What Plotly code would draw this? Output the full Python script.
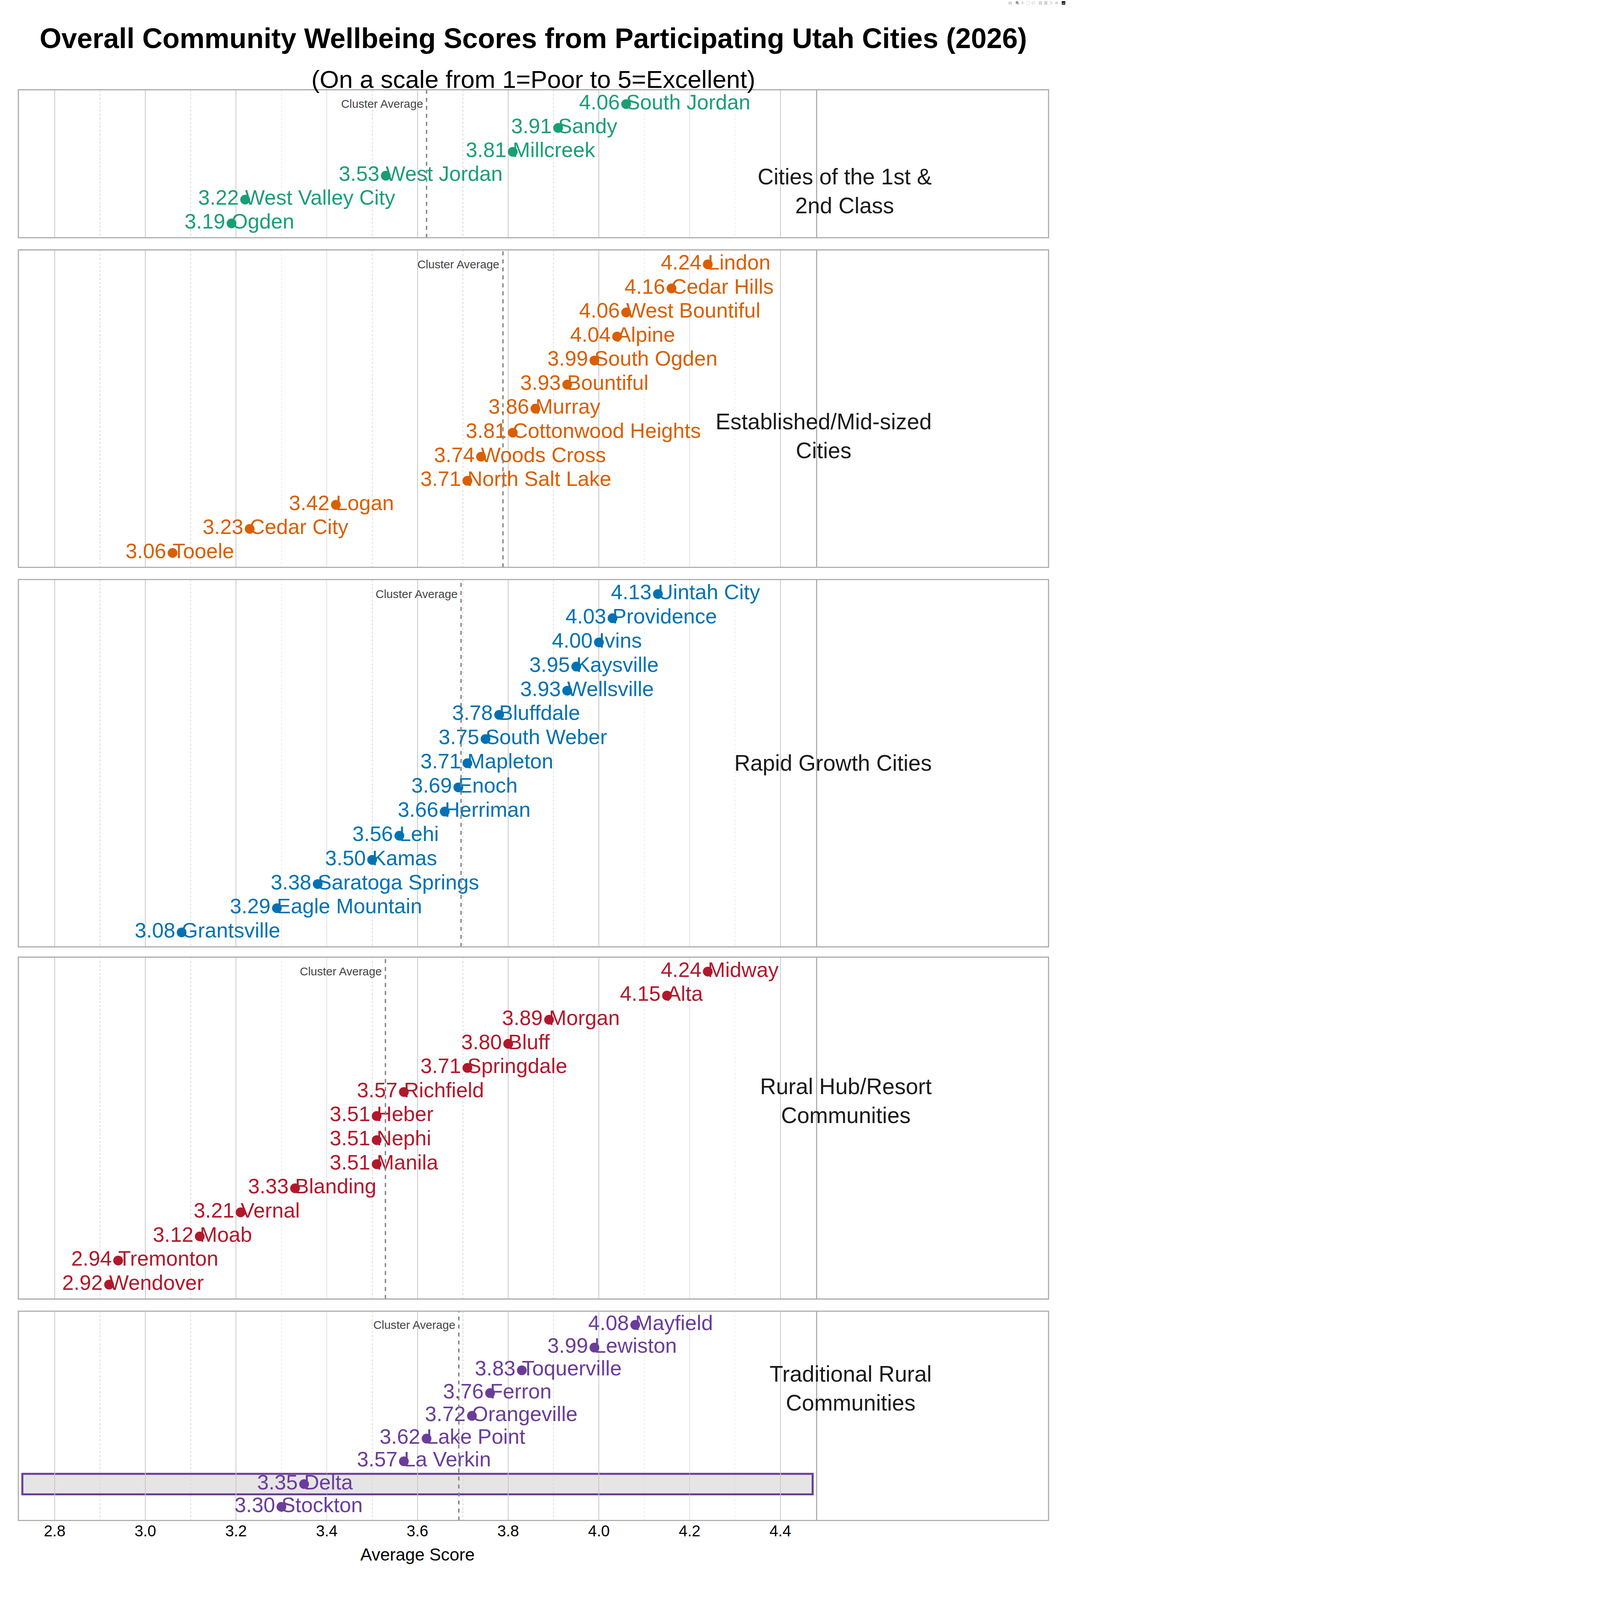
import numpy as np
import plotly.graph_objects as go

# 数据
clusters = ["Cities of the 1st &<br>2nd Class", "Established/Mid-sized<br>Cities",
            "Rapid Growth Cities", "Rural Hub/Resort<br>Communities",
            "Traditional Rural<br>Communities"]
colors = ["#1b9e77", "#d95f02", "#0072b2", "#b2182b", "#6a3d9a"]

c1_names = ["South Jordan", "Sandy", "Millcreek", "West Jordan", "West Valley City", "Ogden"]
c1_vals = [4.06, 3.91, 3.81, 3.53, 3.22, 3.19]
c2_names = ["Lindon", "Cedar Hills", "West Bountiful", "Alpine", "South Ogden", "Bountiful",
            "Murray", "Cottonwood Heights", "Woods Cross", "North Salt Lake", "Logan",
            "Cedar City", "Tooele"]
c2_vals = [4.24, 4.16, 4.06, 4.04, 3.99, 3.93, 3.86, 3.81, 3.74, 3.71, 3.42, 3.23, 3.06]
c3_names = ["Uintah City", "Providence", "Ivins", "Kaysville", "Wellsville", "Bluffdale",
            "South Weber", "Mapleton", "Enoch", "Herriman", "Lehi", "Kamas",
            "Saratoga Springs", "Eagle Mountain", "Grantsville"]
c3_vals = [4.13, 4.03, 4.00, 3.95, 3.93, 3.78, 3.75, 3.71, 3.69, 3.66, 3.56, 3.50, 3.38, 3.29, 3.08]
c4_names = ["Midway", "Alta", "Morgan", "Bluff", "Springdale", "Richfield", "Heber", "Nephi",
            "Manila", "Blanding", "Vernal", "Moab", "Tremonton", "Wendover"]
c4_vals = [4.24, 4.15, 3.89, 3.80, 3.71, 3.57, 3.51, 3.51, 3.51, 3.33, 3.21, 3.12, 2.94, 2.92]
c5_names = ["Mayfield", "Lewiston", "Toquerville", "Ferron", "Orangeville", "Lake Point",
            "La Verkin", "Delta", "Stockton"]
c5_vals = [4.08, 3.99, 3.83, 3.76, 3.72, 3.62, 3.57, 3.35, 3.30]
highlight = "Delta"

groups = [(c1_names, c1_vals), (c2_names, c2_vals), (c3_names, c3_vals),
          (c4_names, c4_vals), (c5_names, c5_vals)]

# 面板位置 (paper)
panel_y = [(0.8514, 0.9439), (0.6454, 0.8438), (0.4082, 0.6378), (0.1881, 0.4018), (0.0497, 0.1805)]
x_dom = [0.0172, 0.7656]
xr = [2.72, 4.48]
font = "Liberation Sans, Arial"
W, H = 4800, 7200

fig = go.Figure()
layout = {}
shapes = []
annotations = []

for k, (names, vals) in enumerate(groups):
    n = len(names)
    ys = [n - 1 - i for i in range(n)]
    ax = "" if k == 0 else str(k + 1)
    xa, ya = "x" + ax, "y" + ax
    col = colors[k]
    fig.add_trace(go.Scatter(x=vals, y=ys, mode="markers+text", xaxis=xa, yaxis=ya,
                             marker=dict(color=col, size=44),
                             text=[f"{v:.2f}" for v in vals], textposition="middle left",
                             textfont=dict(color=col, size=94, family=font),
                             showlegend=False, cliponaxis=False))
    fig.add_trace(go.Scatter(x=vals, y=ys, mode="text", xaxis=xa, yaxis=ya,
                             text=names, textposition="middle right",
                             textfont=dict(color=col, size=94, family=font),
                             showlegend=False, cliponaxis=False))
    layout["xaxis" + ax] = dict(domain=x_dom, range=xr, anchor=ya, dtick=0.2, tick0=2.8,
                                showticklabels=(k == 4), tickformat=".1f",
                                tickfont=dict(size=70, family=font, color="black"),
                                showgrid=True, gridcolor="#c8c8c8", gridwidth=3,
                                minor=dict(dtick=0.1, showgrid=True, gridcolor="#d8d8d8",
                                           griddash="dash", gridwidth=3),
                                zeroline=False, showline=False,
                                title=dict(text="Average Score" if k == 4 else "", standoff=40,
                                           font=dict(size=78, family=font, color="black")))
    if k > 0:
        layout["xaxis" + ax]["matches"] = "x"
    layout["yaxis" + ax] = dict(domain=list(panel_y[k]), range=[-0.6, n - 0.4], anchor=xa,
                                showticklabels=False, showgrid=False, zeroline=False)
    # 平均线
    avg = float(np.mean(vals))
    shapes.append(dict(type="line", xref=xa, yref=ya + " domain", x0=avg, x1=avg, y0=0, y1=1,
                       line=dict(color="#808080", width=6, dash="dash")))
    annotations.append(dict(text="Cluster Average", xref=xa, yref=ya, x=avg, y=n - 1,
                            xanchor="right", yanchor="middle", xshift=-14, showarrow=False,
                            font=dict(size=52, family=font, color="#444444")))
    # 边框
    shapes.append(dict(type="rect", xref="paper", yref="paper", x0=x_dom[0], x1=0.983,
                       y0=panel_y[k][0], y1=panel_y[k][1], line=dict(color="#aaaaaa", width=5)))
    shapes.append(dict(type="line", xref="paper", yref="paper", x0=x_dom[1], x1=x_dom[1],
                       y0=panel_y[k][0], y1=panel_y[k][1], line=dict(color="#aaaaaa", width=5)))
    annotations.append(dict(text=clusters[k], xref="paper", yref="paper", x=0.874,
                            y=sum(panel_y[k]) / 2, showarrow=False, align="center",
                            font=dict(size=100, family=font, color="#1a1a1a")))
    if highlight in names:
        yi = n - 1 - names.index(highlight)
        shapes.append(dict(type="rect", xref=xa + " domain", yref=ya, x0=0.005, x1=0.995,
                           y0=yi - 0.45, y1=yi + 0.45, layer="below",
                           fillcolor="#e5e5e5", line=dict(color=col, width=9)))

annotations.append(dict(text="<b>Overall Community Wellbeing Scores from Participating Utah Cities (2026)</b>",
                        xref="paper", yref="paper", x=0.5, y=0.986, showarrow=False,
                        font=dict(size=126, family=font, color="black")))
annotations.append(dict(text="(On a scale from 1=Poor to 5=Excellent)",
                        xref="paper", yref="paper", x=0.5, y=0.9595, showarrow=False,
                        font=dict(size=112, family=font, color="black")))

fig.update_layout(width=W, height=H, margin=dict(l=0, r=0, t=0, b=0),
                  plot_bgcolor="white", paper_bgcolor="white",
                  shapes=shapes, annotations=annotations, **layout)

# 缩放以适应窗口
post = ("document.body.style.margin='0';"
        "var d=document.getElementById('{plot_id}');"
        "var s=Math.min(1, window.innerWidth/%d, window.innerHeight/%d);"
        "d.style.transformOrigin='0 0'; d.style.transform='scale('+s+')';" % (W, H))
fig.write_html("out.html", post_script=post)
